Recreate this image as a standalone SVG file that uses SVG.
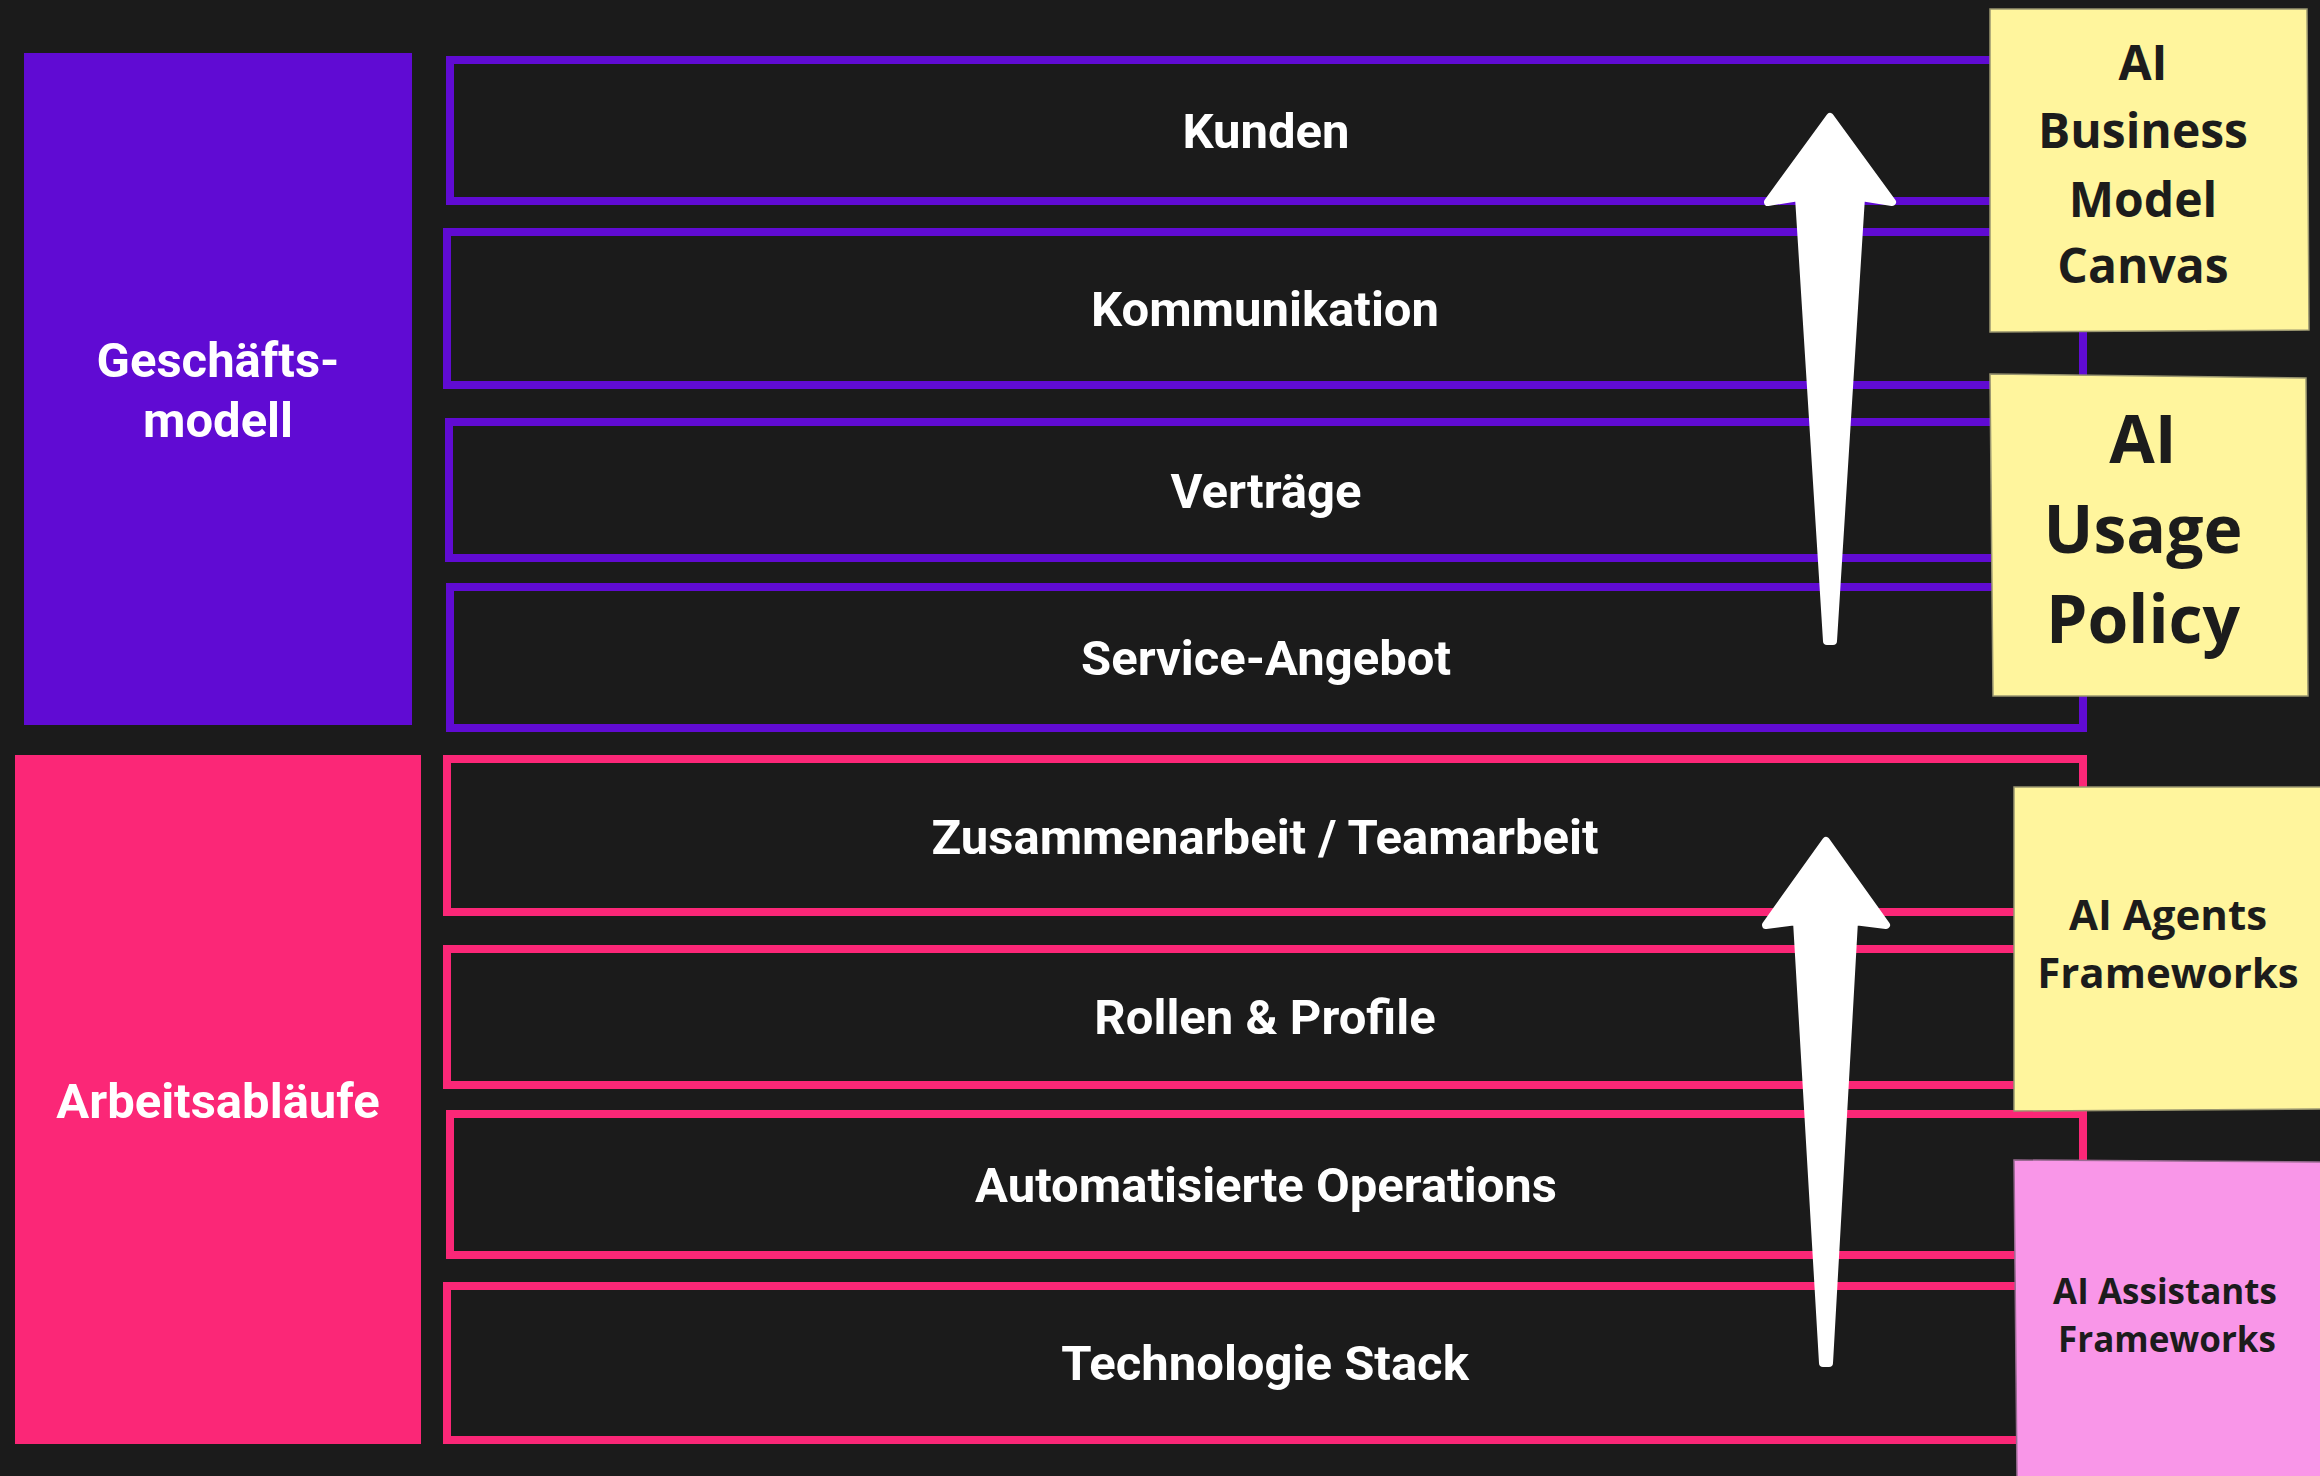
<svg xmlns="http://www.w3.org/2000/svg" width="2320" height="1476" viewBox="0 0 2320 1476">
<style>
.bg{fill:#1b1b1b}
.pbar{fill:none;stroke:#600bd3;stroke-width:8}
.kbar{fill:none;stroke:#fb2777;stroke-width:8}
.lbl{font-family:Roboto,"Liberation Sans",sans-serif;font-weight:700;font-size:49px;fill:#ffffff;text-anchor:middle}
.side{font-family:Roboto,"Liberation Sans",sans-serif;font-weight:700;font-size:49px;fill:#ffffff;text-anchor:middle}
.sticky-y{fill:#fff59d;stroke:#9a9670;stroke-width:1.5}
.sticky-p{fill:#f996e8;stroke:#9a6a92;stroke-width:1.5}
.st{font-family:"Open Sans","Noto Sans",sans-serif;font-weight:700;fill:#1c1c1c;text-anchor:middle}
.arrow{fill:#ffffff;stroke:#ffffff;stroke-width:8;stroke-linejoin:round}
</style>
<rect class="bg" x="0" y="0" width="2320" height="1476"/>

<g id="geschaeftsmodell">
<rect x="24" y="53" width="388" height="672" fill="#600bd3"/>
<text class="side" x="218" y="377">Geschäfts-</text>
<text class="side" x="218" y="437">modell</text>
</g>
<g id="arbeitsablaeufe">
<rect x="15" y="755" width="406" height="689" fill="#fb2777"/>
<text class="side" x="218" y="1118">Arbeitsabläufe</text>
</g>

<g id="kunden"><rect class="pbar" x="450" y="60" width="1633" height="141"/><text class="lbl" x="1266" y="148">Kunden</text></g>
<g id="kommunikation"><rect class="pbar" x="447" y="232" width="1636" height="153"/><text class="lbl" x="1265" y="326">Kommunikation</text></g>
<g id="vertraege"><rect class="pbar" x="449" y="422" width="1634" height="136"/><text class="lbl" x="1266" y="508">Verträge</text></g>
<g id="service-angebot"><rect class="pbar" x="450" y="587" width="1633" height="141"/><text class="lbl" x="1266" y="675">Service-Angebot</text></g>
<g id="zusammenarbeit"><rect class="kbar" x="447" y="759" width="1636" height="153"/><text class="lbl" x="1265" y="854">Zusammenarbeit / Teamarbeit</text></g>
<g id="rollen"><rect class="kbar" x="447" y="949" width="1636" height="136"/><text class="lbl" x="1265" y="1034">Rollen &amp; Profile</text></g>
<g id="automatisierte-operations"><rect class="kbar" x="450" y="1114" width="1633" height="141"/><text class="lbl" x="1266" y="1202">Automatisierte Operations</text></g>
<g id="technologie-stack"><rect class="kbar" x="447" y="1286" width="1636" height="154"/><text class="lbl" x="1265" y="1380">Technologie Stack</text></g>

<g id="connectors">
<path class="arrow" d="M1830,117 L1892,202 L1861,197 L1833,641 L1827,641 L1799,197 L1768,202 Z"/>
<path class="arrow" d="M1826,841 L1886,925 L1854,921 L1829,1363 L1823,1363 L1797,921 L1766,925 Z"/>
</g>

<g id="ai-business-model-canvas">
<polygon class="sticky-y" points="1990,9 2307,9 2309,330 1990,332"/>
<text class="st" font-size="48" x="2143" y="80">AI</text>
<text class="st" font-size="48" x="2143" y="148">Business</text>
<text class="st" font-size="48" x="2143" y="217">Model</text>
<text class="st" font-size="48" x="2143" y="283">Canvas</text>
</g>
<g id="ai-usage-policy">
<polygon class="sticky-y" points="1990,374 2306,378 2308,696 1993,696"/>
<text class="st" font-size="66" x="2143" y="463">AI</text>
<text class="st" font-size="66" x="2143" y="553">Usage</text>
<text class="st" font-size="66" x="2143" y="643">Policy</text>
</g>
<g id="ai-agents-frameworks">
<polygon class="sticky-y" points="2014,787 2322,787 2322,1109 2014,1111"/>
<text class="st" font-size="42" x="2168" y="930">AI Agents</text>
<text class="st" font-size="42" x="2168" y="988">Frameworks</text>
</g>
<g id="ai-assistants-frameworks">
<polygon class="sticky-p" points="2014,1160 2322,1162 2322,1478 2017,1478"/>
<text class="st" font-size="35" x="2165" y="1304">AI Assistants</text>
<text class="st" font-size="35" x="2167" y="1352">Frameworks</text>
</g>
</svg>
